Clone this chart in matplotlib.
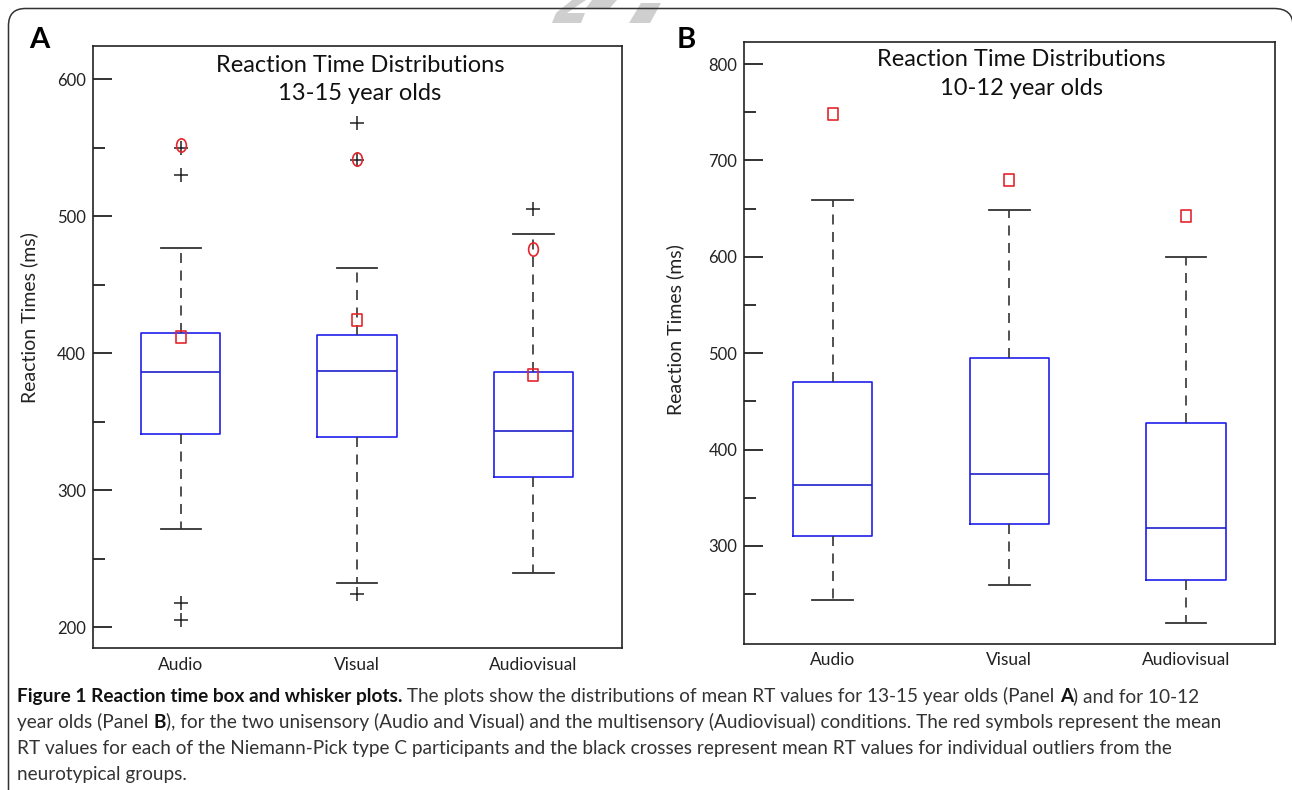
import matplotlib
matplotlib.use("Agg")
import matplotlib.pyplot as plt
from matplotlib.path import Path
from matplotlib.patches import PathPatch, Polygon
from matplotlib.transforms import IdentityTransform, Affine2D

plt.rcParams["font.family"] = ["Lato", "DejaVu Sans"]

# ---- data ----
conditions = ["Audio", "Visual", "Audiovisual"]

# Panel A: 13-15 year olds
a_q1 = [341, 339, 310]
a_med = [386, 387, 343]
a_q3 = [415, 413, 386]
a_whislo = [272, 232, 240]
a_whishi = [477, 462, 487]
a_outliers = [[550, 530, 218, 205], [568, 541, 224], [505]]
a_npc_circles = [552, 542, 476]
a_npc_squares = [412, 424, 384]
a_major = [200, 300, 400, 500, 600]
a_minor = [250, 350, 450, 550]

# Panel B: 10-12 year olds
b_q1 = [310, 323, 265]
b_med = [363, 375, 319]
b_q3 = [470, 495, 428]
b_whislo = [244, 259, 220]
b_whishi = [659, 649, 600]
b_outliers = [[], [], []]
b_npc_squares = [748, 680, 642]
b_major = [300, 400, 500, 600, 700, 800]
b_minor = [250, 350, 450, 550, 650, 750]

W, H = 1292, 790
fig = plt.figure(figsize=(W / 100, H / 100), dpi=100)

ellipse = Path.unit_circle().transformed(Affine2D().scale(0.73, 1.0))
rect = Path([(-0.39, -0.5), (0.39, -0.5), (0.39, 0.5), (-0.39, 0.5), (-0.39, -0.5)],
            [Path.MOVETO, Path.LINETO, Path.LINETO, Path.LINETO, Path.CLOSEPOLY])
red = "#e3262d"


def make_stats(q1, med, q3, lo, hi, out):
    return [dict(q1=a, med=b, q3=c, whislo=d, whishi=e, fliers=f, label=lab)
            for a, b, c, d, e, f, lab in zip(q1, med, q3, lo, hi, out, conditions)]


def draw_panel(ax, stats, ylim, yticks, minor):
    pos = [1, 2, 3]
    ax.bxp(stats, positions=pos, widths=0.45, capwidths=0.23,
           boxprops=dict(color="#2020ee", lw=1.2),
           medianprops=dict(color="#2020cc", lw=1.2),
           whiskerprops=dict(color="#333333", lw=1.2, linestyle=(0, (6, 4.5))),
           capprops=dict(color="#333333", lw=1.3),
           flierprops=dict(marker="+", markeredgecolor="#222222", markersize=10,
                           markeredgewidth=1.1, linestyle="none"))
    ax.set_xlim(0.5, 3.5)
    ax.set_ylim(*ylim)
    ax.set_yticks(yticks)
    ax.set_yticks(minor, minor=True)
    ax.tick_params(axis="y", which="major", direction="in", length=13.5, width=1.3,
                   labelsize=12, pad=5, colors="#222222")
    ax.tick_params(axis="y", which="minor", direction="in", length=8.5, width=1.3,
                   colors="#222222")
    ax.tick_params(axis="x", length=0, labelsize=12.5, pad=6, colors="#222222")
    for s in ax.spines.values():
        s.set_linewidth(1.2)
        s.set_color("#222222")
    return pos


# Panel A
axA = fig.add_axes([0.0717, 0.1794, 0.4094, 0.7628])
posA = draw_panel(axA, make_stats(a_q1, a_med, a_q3, a_whislo, a_whishi, a_outliers),
                  (184.7, 624.5), a_major, a_minor)
axA.plot(posA, a_npc_circles, linestyle="none", marker=ellipse, mfc="none", mec=red,
         ms=9.6, mew=1.2)
axA.plot(posA, a_npc_squares, linestyle="none", marker=rect, mfc="none", mec=red,
         ms=8.4, mew=1.2)
axA.text(0.5055, 0.9563, "Reaction Time Distributions", transform=axA.transAxes,
         ha="center", va="baseline", fontsize=17, color="#111111")
axA.text(0.5055, 0.9099, "13-15 year olds", transform=axA.transAxes,
         ha="center", va="baseline", fontsize=17, color="#111111")
axA.set_ylabel("Reaction Times (ms)", fontsize=14, color="#222222")
axA.yaxis.set_label_coords(-0.103, 0.548)

# Panel B
axB = fig.add_axes([0.576, 0.1848, 0.4105, 0.7616])
posB = draw_panel(axB, make_stats(b_q1, b_med, b_q3, b_whislo, b_whishi, b_outliers),
                  (198.3, 822.5), b_major, b_minor)
axB.plot(posB, b_npc_squares, linestyle="none", marker=rect, mfc="none", mec=red,
         ms=8.8, mew=1.2)
axB.text(0.522, 0.96, "Reaction Time Distributions", transform=axB.transAxes,
         ha="center", va="baseline", fontsize=17, color="#111111")
axB.text(0.522, 0.912, "10-12 year olds", transform=axB.transAxes,
         ha="center", va="baseline", fontsize=17, color="#111111")
axB.set_ylabel("Reaction Times (ms)", fontsize=14, color="#222222")
axB.yaxis.set_label_coords(-0.113, 0.522)

# panel letters
fig.text(29 / W, 1 - 48 / H, "A", fontsize=21, fontweight="bold", va="baseline")
fig.text(677 / W, 1 - 48 / H, "B", fontsize=21, fontweight="bold", va="baseline")


# rounded frame (pixel coordinates, y measured from the top)
def px(x, y):
    return (x, H - y)


r = 17
frame = Path([px(8.5, H + 10), px(8.5, 8.5 + r), px(8.5, 8.5), px(8.5 + r, 8.5),
              px(W - r - 1, 8.5), px(W + 1, 8.5), px(W + 1, 8.5 + r), px(W + 1, H + 10)],
             [Path.MOVETO, Path.LINETO, Path.CURVE3, Path.CURVE3,
              Path.LINETO, Path.CURVE3, Path.CURVE3, Path.LINETO])
fig.patches.append(PathPatch(frame, fill=False, lw=1.1, ec="#333333",
                             transform=IdentityTransform(), figure=fig))

# faint watermark fragments at the top edge
for poly in ([(572, 0), (586, 0), (567, 13), (585, 13), (581, 23), (552, 23), (556, 13)],
             [(592, 0), (617, 0), (610, 8), (586, 8)],
             [(641, 3), (661, 3), (650, 23), (629, 23)]):
    fig.patches.append(Polygon([px(x, y) for x, y in poly], closed=True, fc="#cfcfcf",
                               ec="none", transform=IdentityTransform(), figure=fig,
                               zorder=0))

# caption with mixed bold/regular runs
caption = [
    [("Figure 1 Reaction time box and whisker plots.", "bold"),
     (" The plots show the distributions of mean RT values for 13-15 year olds (Panel ", "normal"),
     ("A", "bold"), (") and for 10-12", "normal")],
    [("year olds (Panel ", "normal"), ("B", "bold"),
     ("), for the two unisensory (Audio and Visual) and the multisensory (Audiovisual) "
      "conditions. The red symbols represent the mean", "normal")],
    [("RT values for each of the Niemann-Pick type C participants and the black crosses "
      "represent mean RT values for individual outliers from the", "normal")],
    [("neurotypical groups.", "normal")],
]
baselines = [702, 728, 754, 780]
line_targets = [1258, 1257, 1151]
renderer = fig.canvas.get_renderer()


def layout_caption(size):
    texts, widths = [], []
    for line, yb in zip(caption, baselines):
        x = 17
        for txt, weight in line:
            t = fig.text(x / W, 1 - yb / H, txt, fontsize=size, fontweight=weight,
                         va="baseline", ha="left",
                         color="#111111" if weight == "bold" else "#333333")
            texts.append(t)
            x += t.get_window_extent(renderer).width
        widths.append(x - 17)
    return texts, widths


# size the caption so no line runs wider than in the original
trial, widths = layout_caption(12)
for t in trial:
    t.remove()
scale = min(tw / w for tw, w in zip(line_targets, widths))
layout_caption(12 * scale)

fig.savefig("out.png", dpi=100)
